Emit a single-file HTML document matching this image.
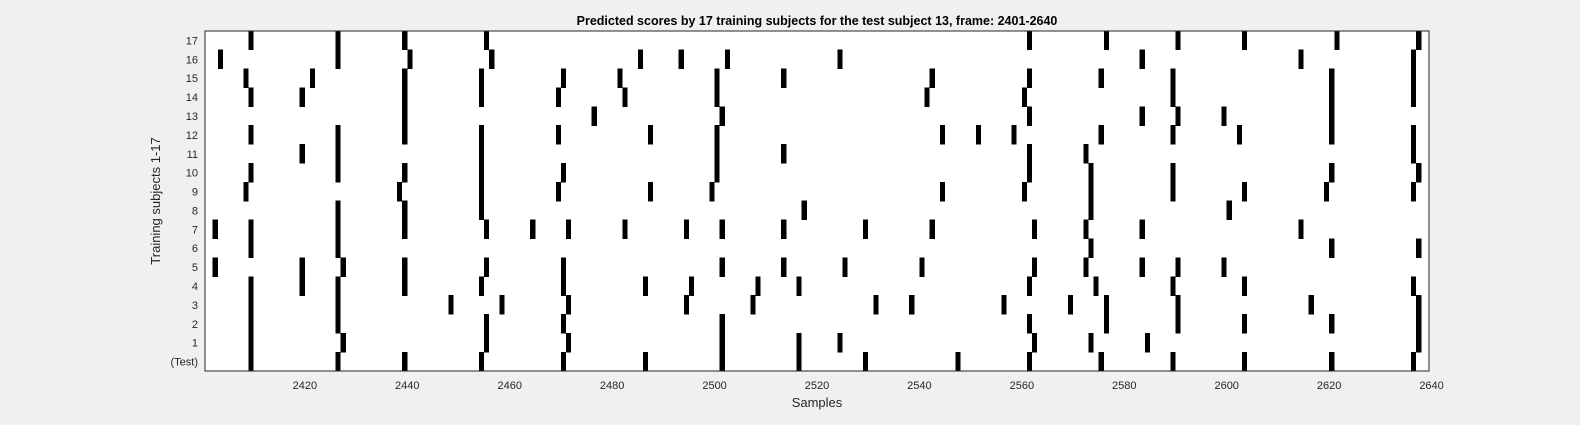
<!DOCTYPE html>
<html><head><meta charset="utf-8"><style>
body{margin:0;background:#f0f0f0;width:1580px;height:420px;overflow:hidden;font-family:"Liberation Sans",Arial,sans-serif}
</style></head><body>
<svg id="chart" width="1580" height="420" xmlns="http://www.w3.org/2000/svg" font-family="Liberation Sans, Arial, sans-serif">
<rect x="205" y="31" width="1224" height="340" fill="#fff"/>
<g id="marks" shape-rendering="crispEdges"></g>
<g id="axes"></g>
<rect x="205" y="31" width="1224" height="340" fill="none" stroke="#262626" stroke-width="1"/>
<text x="817" y="25" text-anchor="middle" font-size="12.5" font-weight="bold" fill="#000">Predicted scores by 17 training subjects for the test subject 13, frame: 2401-2640</text>
<text x="817" y="407" text-anchor="middle" font-size="13" fill="#262626">Samples</text>
<text transform="translate(160,201) rotate(-90)" text-anchor="middle" font-size="13" fill="#262626">Training subjects 1-17</text>
</svg>
<script>
const rowLabels = ["(Test)","1","2","3","4","5","6","7","8","9","10","11","12","13","14","15","16","17"];
const rowTest = [2409,2426,2439,2454,2470,2486,2501,2516,2529,2547,2561,2575,2589,2603,2620,2636];
const row1 = [2409,2427,2455,2471,2501,2516,2524,2562,2573,2584,2637];
const row2 = [2409,2426,2455,2470,2501,2561,2576,2590,2603,2620,2637];
const row3 = [2409,2426,2448,2458,2471,2494,2507,2531,2538,2556,2569,2576,2590,2616,2637];
const row4 = [2409,2419,2426,2439,2454,2470,2486,2495,2508,2516,2561,2574,2589,2603,2636];
const row5 = [2402,2419,2427,2439,2455,2470,2501,2513,2525,2540,2562,2572,2583,2590,2599];
const row6 = [2409,2426,2573,2620,2637];
const row7 = [2402,2409,2426,2439,2455,2464,2471,2482,2494,2501,2513,2529,2542,2562,2572,2583,2614];
const row8 = [2426,2439,2454,2517,2573,2600];
const row9 = [2408,2438,2454,2469,2487,2499,2544,2560,2573,2589,2603,2619,2636];
const row10 = [2409,2426,2439,2454,2470,2500,2561,2573,2589,2620,2637];
const row11 = [2419,2426,2454,2500,2513,2561,2572,2636];
const row12 = [2409,2426,2439,2454,2469,2487,2500,2544,2551,2558,2575,2589,2602,2620,2636];
const row13 = [2439,2476,2501,2561,2583,2590,2599,2620];
const row14 = [2409,2419,2439,2454,2469,2482,2500,2541,2560,2589,2620,2636];
const row15 = [2408,2421,2439,2454,2470,2481,2500,2513,2542,2561,2575,2589,2620,2636];
const row16 = [2403,2426,2440,2456,2485,2493,2502,2524,2583,2614,2636];
const row17 = [2409,2426,2439,2455,2561,2576,2590,2603,2621,2637];
const rows = [rowTest,row1,row2,row3,row4,row5,row6,row7,row8,row9,row10,row11,row12,row13,row14,row15,row16,row17];
const xTicks = [2420,2440,2460,2480,2500,2520,2540,2560,2580,2600,2620,2640];

const NS = "http://www.w3.org/2000/svg";
const L = 205, R = 1429, T = 31, B = 371;
const xMin = 2400.5, xMax = 2639.5;
function xs(v){ return L + (v - xMin) * (R - L) / (xMax - xMin); }
const rh = (B - T) / rows.length;
function yTop(i){ return B - (i + 1) * rh; }

const marks = document.getElementById('marks');
rows.forEach((r, i) => {
  r.forEach(v => {
    const el = document.createElementNS(NS, 'rect');
    
    
    const x0 = xs(v), x1 = xs(v + 1);
    el.setAttribute('x', x0.toFixed(2));
    el.setAttribute('width', (x1 - x0).toFixed(2));
    el.setAttribute('y', (yTop(i) - 0.3).toFixed(2));
    el.setAttribute('height', (rh + 0.6).toFixed(2));
    el.setAttribute('fill', '#000');
    marks.appendChild(el);
  });
});

const axes = document.getElementById('axes');
xTicks.forEach(t => {
  const x = xs(t);
  const lb = document.createElementNS(NS, 'text');
  
  
  lb.setAttribute('x', x); lb.setAttribute('y', 389);
  lb.setAttribute('text-anchor', 'middle');
  lb.setAttribute('font-size', '11');
  lb.setAttribute('fill', '#262626');
  lb.textContent = t;
  axes.appendChild(lb);
});
rowLabels.forEach((s, i) => {
  const y = yTop(i) + rh / 2;
  const lb = document.createElementNS(NS, 'text');
  
  
  lb.setAttribute('x', 198); lb.setAttribute('y', y + 4);
  lb.setAttribute('text-anchor', 'end');
  lb.setAttribute('font-size', '11');
  lb.setAttribute('fill', '#262626');
  lb.textContent = s;
  axes.appendChild(lb);
});
</script>
</body></html>
